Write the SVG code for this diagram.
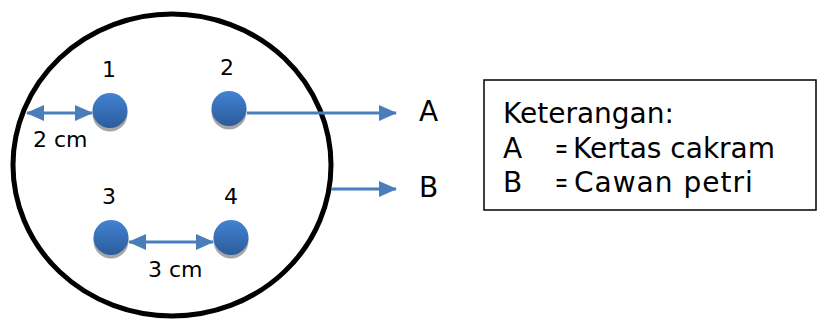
<svg xmlns="http://www.w3.org/2000/svg" width="818" height="320" viewBox="0 0 818 320">
<defs>
<linearGradient id="dotg" x1="0" y1="0" x2="0" y2="1">
<stop offset="0" stop-color="#4283d1"/>
<stop offset="1" stop-color="#2b5c9c"/>
</linearGradient>
<marker id="ah" markerUnits="userSpaceOnUse" markerWidth="18" markerHeight="16" refX="17" refY="8" orient="auto-start-reverse" viewBox="0 0 18 16">
<path d="M0,0 L18,8 L0,16 z" fill="#4a7ebb"/>
</marker>
<style>
text{font-family:"DejaVu Sans","Noto Sans",sans-serif;fill:#000}
.s{font-size:22px}
.l{font-size:28px}
.ln{stroke:#4a7ebb;stroke-width:3;fill:none}
.sh{fill:#a6a6a6}
.dt{fill:url(#dotg)}
</style>
</defs>
<rect width="818" height="320" fill="#fff"/>
<g id="petri">
<ellipse cx="172" cy="165" rx="159" ry="151" fill="none" stroke="#000" stroke-width="5"/>
</g>
<g id="dot1"><circle class="sh" cx="110" cy="114" r="17.5"/><circle class="dt" cx="110" cy="110.5" r="17.5"/><text class="s" x="109" y="77" text-anchor="middle">1</text></g>
<g id="dot2"><circle class="sh" cx="229" cy="112" r="17.5"/><circle class="dt" cx="229" cy="108.5" r="17.5"/><text class="s" x="227" y="75" text-anchor="middle">2</text></g>
<g id="dot3"><circle class="sh" cx="111" cy="241" r="17.5"/><circle class="dt" cx="111" cy="237.5" r="17.5"/><text class="s" x="109" y="204" text-anchor="middle">3</text></g>
<g id="dot4"><circle class="sh" cx="231" cy="241" r="17.5"/><circle class="dt" cx="231" cy="237.5" r="17.5"/><text class="s" x="231" y="204" text-anchor="middle">4</text></g>
<g id="connectors">
<line class="ln" x1="27" y1="113" x2="92" y2="113" marker-start="url(#ah)" marker-end="url(#ah)"/>
<line class="ln" x1="129" y1="242" x2="213" y2="242" marker-start="url(#ah)" marker-end="url(#ah)"/>
<line class="ln" x1="247" y1="113" x2="396" y2="113" marker-end="url(#ah)"/>
<line class="ln" x1="331" y1="189" x2="396" y2="189" marker-end="url(#ah)"/>
<text class="s" x="33" y="147">2 cm</text>
<text class="s" x="148" y="277">3 cm</text>
</g>
<g id="labelA"><text class="l" x="419" y="121">A</text></g>
<g id="labelB"><text class="l" x="419" y="197">B</text></g>
<g id="legend">
<rect x="484" y="80" width="332" height="130" fill="none" stroke="#000" stroke-width="1.5"/>
<text class="l" x="503" y="123">Keterangan:</text>
<text class="l" x="503" y="158">A</text>
<text class="l" transform="translate(555,158) scale(0.55,1)">=</text>
<text class="l" x="573" y="158">Kertas cakram</text>
<text class="l" x="503" y="192">B</text>
<text class="l" transform="translate(555,192) scale(0.55,1)">=</text>
<text class="l" x="574" y="192" letter-spacing="1">Cawan petri</text>
</g>
</svg>
